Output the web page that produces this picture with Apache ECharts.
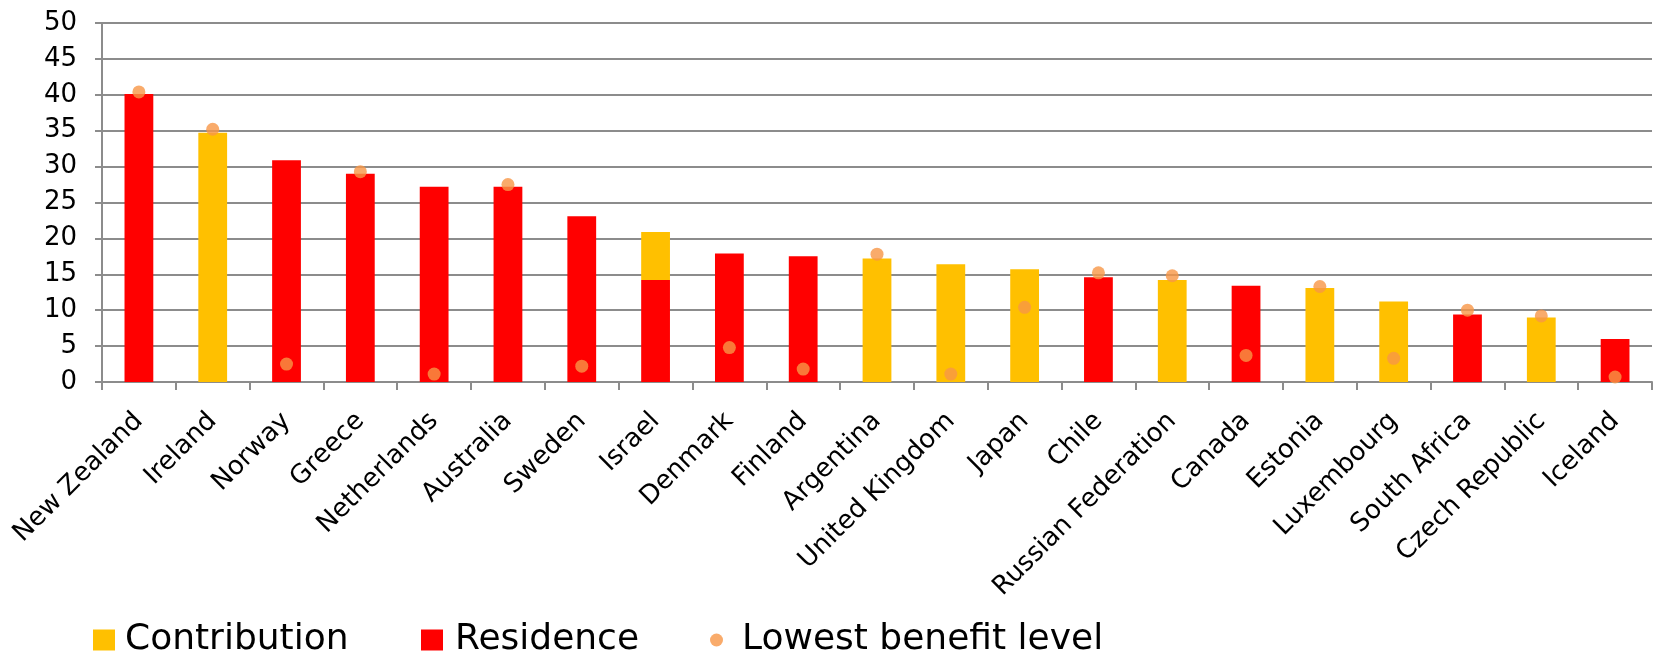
<!DOCTYPE html>
<html><head><meta charset="utf-8">
<script src="https://cdn.jsdelivr.net/npm/echarts@6/dist/echarts.min.js"></script>
<style>html,body{margin:0;padding:0;background:#fff}#c{width:1653px;height:656px}</style>
</head><body><div id="c"></div>
<script>
var categories = ["New Zealand","Ireland","Norway","Greece","Netherlands","Australia","Sweden","Israel","Denmark","Finland","Argentina","United Kingdom","Japan","Chile","Russian Federation","Canada","Estonia","Luxembourg","South Africa","Czech Republic","Iceland"];
var residence = [40.1, null, 30.9, 29.0, 27.2, 27.2, 23.1, 14.2, 17.9, 17.5, null, null, null, 14.6, null, 13.4, null, null, 9.4, null, 6.0];
var contribution = [null, 34.7, null, null, null, null, null, 6.7, null, null, 17.2, 16.4, 15.7, null, 14.2, null, 13.1, 11.2, null, 9.0, null];
var lowestBenefit = [40.4, 35.2, 2.5, 29.3, 1.1, 27.5, 2.2, null, 4.8, 1.8, 17.8, 1.1, 10.4, 15.2, 14.8, 3.7, 13.3, 3.3, 10.0, 9.2, 0.7];
var yTicks = {min: 0, max: 50, interval: 5};

var FONT = "DejaVu Sans";
var chart = echarts.init(document.getElementById('c'), null, {renderer: 'canvas'});
function lg(name, icon, left, w, h, pad) {
  return {
    data: [{name: name, icon: icon}],
    left: left, top: 617, itemWidth: w, itemHeight: h, itemGap: 0,
    textStyle: {fontFamily: FONT, fontSize: 36, color: '#000', padding: [0,0,0,pad]},
    selectedMode: false
  };
}
chart.setOption({
  animation: false,
  grid: {left: 102, right: 1, top: 23, bottom: 274, containLabel: false},
  legend: [
    lg('Contribution', 'rect', 88, 22, 21, 5),
    lg('Residence', 'rect', 416, 22, 21, 7),
    lg('Lowest benefit level', 'circle', 705, 13, 13, 14)
  ],
  xAxis: {
    type: 'category', data: categories,
    axisLine: {lineStyle: {color: '#8c8c8c', width: 2}},
    axisTick: {show: true, alignWithLabel: false, length: 8, lineStyle: {color: '#8c8c8c', width: 2}},
    axisLabel: {rotate: 45, interval: 0, fontFamily: FONT, fontSize: 26, color: '#000', margin: 35}
  },
  yAxis: {
    type: 'value', min: yTicks.min, max: yTicks.max, interval: yTicks.interval,
    axisLine: {show: true, lineStyle: {color: '#8c8c8c', width: 2}},
    axisTick: {show: true, length: 7, lineStyle: {color: '#8c8c8c', width: 2}},
    splitLine: {lineStyle: {color: '#8c8c8c', width: 2}},
    axisLabel: {fontFamily: FONT, fontSize: 26, color: '#000', margin: 25}
  },
  series: [
    {name: 'Residence', type: 'bar', stack: 's', data: residence, barWidth: '39%', itemStyle: {color: '#FF0000'}},
    {name: 'Contribution', type: 'bar', stack: 's', data: contribution, barWidth: '39%', itemStyle: {color: '#FFC000'}},
    {name: 'Lowest benefit level', type: 'scatter', data: lowestBenefit, symbolSize: 13, itemStyle: {color: '#F79646'}, z: 5}
  ]
});
</script></body></html>
